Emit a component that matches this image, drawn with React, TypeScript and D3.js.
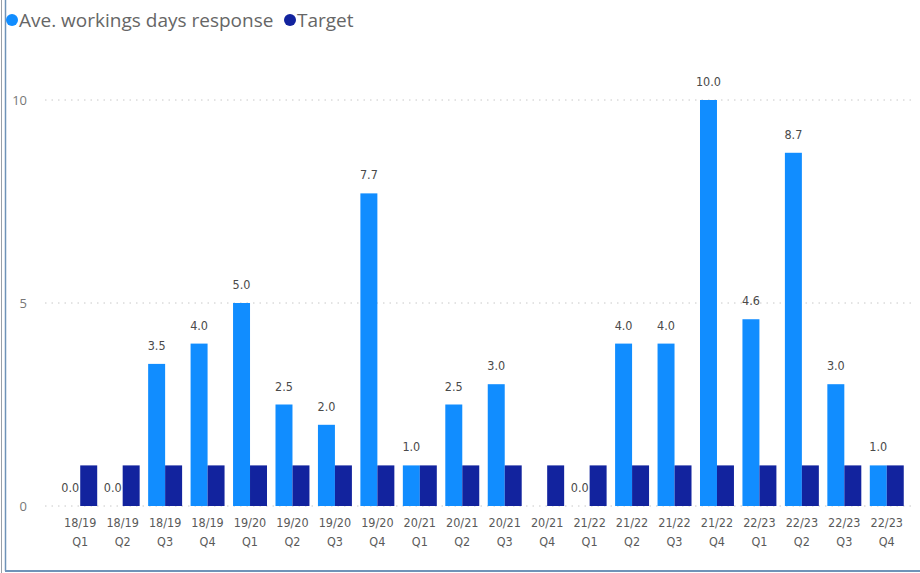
import React from "react";
import * as d3 from "d3";

const categories = ["18/19 Q1","18/19 Q2","18/19 Q3","18/19 Q4","19/20 Q1","19/20 Q2","19/20 Q3","19/20 Q4","20/21 Q1","20/21 Q2","20/21 Q3","20/21 Q4","21/22 Q1","21/22 Q2","21/22 Q3","21/22 Q4","22/23 Q1","22/23 Q2","22/23 Q3","22/23 Q4"];
const responseValues: (number | null)[] = [0,0,3.5,4,5,2.5,2,7.7,1,2.5,3,null,0,4,4,10,4.6,8.7,3,1];
const targetValues = [1,1,1,1,1,1,1,1,1,1,1,1,1,1,1,1,1,1,1,1];
const yTicks = [0,5,10];
const seriesNames = ["Ave. workings days response","Target"];
const colors = ["#118DFF","#12239E"];

export default function App() {
  const W = 920, H = 573;
  const x = d3.scaleBand().domain(categories).range([59, 908]).paddingInner(0.2).paddingOuter(0.1);
  const x1 = d3.scaleBand().domain(["a","t"]).range([0, x.bandwidth()]);
  const y = d3.scaleLinear().domain([0, 10]).range([506, 100]);
  const labelFont = "'DejaVu Sans Condensed', 'DejaVu Sans', sans-serif";
  return (
    <svg width={W} height={H} style={{position:"absolute", left:0, top:0, background:"#fff"}}>
      <rect x={0} y={0} width={W} height={H} fill="#fff" />
      <line x1={1.5} x2={1.5} y1={0} y2={H} stroke="#9aa0a8" strokeWidth={1} />
      <line x1={5.5} x2={5.5} y1={0} y2={571} stroke="#6f93b8" strokeWidth={1.5} />
      <line x1={5} x2={W} y1={571} y2={571} stroke="#6f93b8" strokeWidth={2} />
      {/* legend */}
      <g fontFamily="'Open Sans', 'Noto Sans', sans-serif" fontSize={19} fill="#666">
        <circle cx={12} cy={20} r={6} fill={colors[0]} />
        <text x={19} y={27}>{seriesNames[0]}</text>
        <circle cx={290} cy={20} r={6} fill={colors[1]} />
        <text x={297} y={27}>{seriesNames[1]}</text>
      </g>
      {/* gridlines */}
      {yTicks.map(t => (
        <g key={t}>
          <line x1={45} x2={916} y1={y(t)} y2={y(t)} stroke="#c8c8c8" strokeWidth={1} strokeDasharray="1.5 5" />
          <text x={27} y={y(t)} dy="0.35em" textAnchor="end" fontFamily="'Open Sans', sans-serif" fontSize={13} fill="#777">{t}</text>
        </g>
      ))}
      {/* bars */}
      {categories.map((c, i) => {
        const gx = x(c)!;
        const v = responseValues[i];
        const ax = gx + x1("a")!;
        const tx = gx + x1("t")!;
        return (
          <g key={c}>
            {v !== null && v > 0 && (
              <rect x={ax} y={y(v)} width={x1.bandwidth()} height={y(0) - y(v)} fill={colors[0]} />
            )}
            <rect x={tx} y={y(targetValues[i])} width={x1.bandwidth()} height={y(0) - y(targetValues[i])} fill={colors[1]} />
            {v !== null && (
              v > 0 ? (
                <text x={ax + x1.bandwidth() / 2} y={y(v) - 14} textAnchor="middle" fontFamily={labelFont} fontSize={12.5} fill="#4a4a4a">{v.toFixed(1)}</text>
              ) : (
                <text x={tx - 1} y={y(0) - 14} textAnchor="end" fontFamily={labelFont} fontSize={12.5} fill="#4a4a4a">{v.toFixed(1)}</text>
              )
            )}
            <text x={gx + x.bandwidth() / 2} y={527} textAnchor="middle" fontFamily={labelFont} fontSize={12.5} fill="#5a5a5a">{c.split(" ")[0]}</text>
            <text x={gx + x.bandwidth() / 2} y={546} textAnchor="middle" fontFamily={labelFont} fontSize={12.5} fill="#5a5a5a">{c.split(" ")[1]}</text>
          </g>
        );
      })}
    </svg>
  );
}
